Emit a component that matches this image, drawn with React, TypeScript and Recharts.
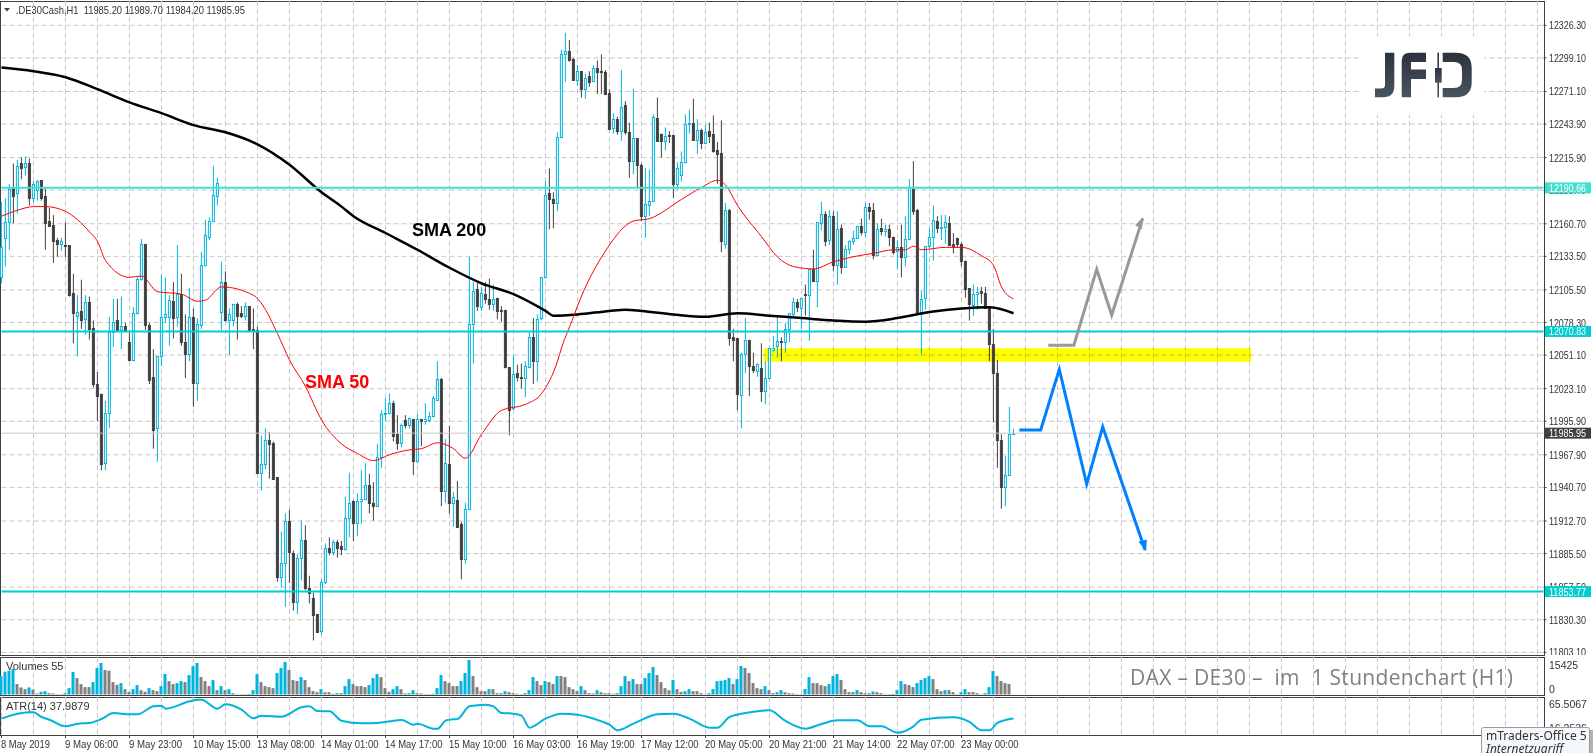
import React from "react"
import {
  Bar,
  CartesianGrid,
  Cell,
  ComposedChart,
  Line,
  ReferenceArea,
  ReferenceLine,
  XAxis,
  YAxis,
} from "recharts"

// hourly candles, one value per bar
const opens = [
  12116,12149,12162,12191,12186,12211,12208,12211,12182,12189,
  12197,12184,12163,12160,12147,12144,12143,12143,12103,12084,
  12088,12081,12095,12074,12027,12019,11961,12003,12070,12080,
  12072,12075,12062,12047,12086,12115,12144,12076,12033,11990,
  12050,12083,12083,12096,12083,12102,12062,12052,12083,12028,
  12076,12126,12150,12163,12184,12087,12112,12080,12080,12094,
  12086,12084,12092,12073,12072,11953,11960,11980,11978,11949,
  11866,11878,11913,11886,11845,11882,11897,11857,11848,11835,
  11821,11862,11890,11887,11895,11892,11889,11915,11929,11911,
  11929,11931,11943,11928,11925,11966,12002,12003,12011,11985,
  11978,11997,11993,11998,11963,11998,11996,11997,12000,12014,
  12031,11938,11960,11928,11930,11910,11881,11923,12077,12106,
  12091,12102,12098,12094,12099,12089,12089,12041,12007,12036,
  12033,12032,12041,12066,12046,12082,12116,12186,12181,12178,
  12233,12302,12305,12298,12281,12288,12273,12284,12280,12291,
  12288,12287,12270,12241,12248,12238,12260,12237,12213,12232,
  12210,12167,12176,12180,12249,12236,12230,12235,12235,12194,
  12201,12212,12244,12245,12231,12239,12228,12238,12236,12222,
  12220,12144,12172,12066,12065,12018,12052,12064,12042,12038,
  12040,12021,12032,12055,12059,12063,12062,12073,12085,12095,
  12090,12102,12101,12123,12113,12161,12169,12147,12167,12126,
  12157,12125,12140,12146,12149,12159,12154,12175,12172,12135,
  12157,12155,12156,12150,12138,12141,12133,12148,12190,12172,
  12087,12099,12142,12150,12163,12157,12158,12161,12144,12149,
  12144,12130,12107,12093,12102,12105,12103,12091,12060,12036,
  11980,11941,11951,11985.2,
]
const highs = [
  12179,12182,12194,12211,12214,12216,12217,12215,12196,12197,
  12197,12190,12174,12168,12149,12149,12162,12143,12119,12101,
  12114,12101,12100,12080,12037,12019,12013,12083,12098,12098,
  12100,12078,12070,12091,12116,12148,12144,12078,12056,12050,
  12118,12116,12101,12112,12143,12119,12085,12107,12090,12082,
  12137,12164,12166,12209,12199,12129,12121,12090,12094,12095,
  12092,12095,12092,12090,12075,11984,11990,11987,11979,11949,
  11904,11919,11922,11888,11885,11913,11909,11867,11853,11835,
  11864,11894,11899,11897,11897,11896,11933,11953,11930,11936,
  11955,11961,11952,11945,11977,12005,12015,12019,12013,12001,
  11994,12001,11999,11998,12002,11998,12011,12004,12017,12046,
  12032,11981,11992,11937,11946,11912,11928,12133,12112,12111,
  12108,12112,12115,12110,12099,12092,12089,12041,12051,12043,
  12044,12046,12070,12082,12085,12116,12196,12207,12187,12237,
  12306,12320,12314,12299,12293,12288,12286,12288,12293,12297,
  12302,12289,12273,12253,12250,12289,12263,12245,12273,12232,
  12211,12207,12206,12252,12266,12236,12241,12238,12235,12212,
  12221,12252,12256,12265,12248,12240,12243,12245,12251,12229,
  12247,12178,12173,12073,12065,12053,12082,12064,12053,12044,
  12061,12046,12057,12067,12083,12066,12078,12086,12099,12098,
  12099,12110,12123,12139,12162,12179,12171,12172,12171,12171,
  12160,12143,12147,12155,12159,12165,12178,12178,12178,12161,
  12165,12160,12160,12150,12147,12160,12167,12198,12213,12173,
  12105,12142,12157,12176,12167,12168,12168,12167,12153,12149,
  12145,12130,12107,12110,12108,12108,12108,12092,12073,12047,
  11985,11967,12008,11989.7,
]
const lows = [
  12111,12125,12139,12161,12169,12198,12201,12176,12179,12180,
  12180,12139,12158,12128,12133,12138,12133,12100,12061,12050,
  12073,12068,12064,12024,11996,11955,11955,11990,12058,12072,
  12056,12070,12046,12046,12085,12113,12072,12027,11973,11962,
  12042,12078,12059,12065,12075,12059,12032,12046,12008,12013,
  12073,12125,12147,12163,12176,12072,12079,12051,12075,12064,
  12082,12080,12072,12056,11953,11938,11956,11948,11947,11862,
  11857,11841,11861,11838,11835,11863,11855,11844,11813,11820,
  11818,11860,11884,11884,11882,11884,11888,11899,11896,11900,
  11910,11930,11919,11913,11925,11957,11996,12002,11979,11972,
  11974,11990,11990,11951,11961,11975,11993,11995,11999,12013,
  11925,11928,11919,11908,11907,11864,11877,11922,12044,12088,
  12088,12094,12089,12088,12081,12079,12040,11984,12005,12029,
  12023,12016,12040,12027,12029,12080,12115,12156,12157,12171,
  12232,12279,12296,12280,12276,12266,12265,12275,12279,12269,
  12269,12268,12239,12236,12235,12230,12235,12199,12202,12190,
  12163,12149,12167,12180,12230,12216,12222,12228,12182,12189,
  12196,12211,12236,12231,12219,12223,12228,12228,12220,12194,
  12137,12140,12059,12046,12005,11990,12036,12017,12036,12033,
  12012,12010,12031,12054,12049,12046,12053,12062,12082,12087,
  12073,12084,12063,12113,12091,12155,12142,12143,12121,12110,
  12119,12124,12135,12143,12148,12151,12150,12164,12131,12135,
  12151,12150,12142,12135,12123,12116,12125,12147,12168,12087,
  12051,12089,12140,12130,12153,12147,12144,12143,12136,12141,
  12125,12099,12080,12084,12089,12094,12090,12046,11995,11957,
  11923,11925,11951,11984.2,
]
const closes = [
  12141,12162,12190,12184,12209,12207,12211,12182,12194,12196,
  12182,12161,12159,12146,12144,12146,12142,12101,12086,12087,
  12080,12095,12073,12027,12017,11960,12003,12070,12079,12072,
  12075,12071,12047,12086,12115,12144,12076,12030,11989,12050,
  12083,12085,12097,12082,12102,12062,12052,12083,12028,12077,
  12126,12151,12163,12185,12195,12112,12080,12085,12094,12084,
  12084,12092,12072,12071,11953,11960,11980,11977,11948,11866,
  11878,11913,11887,11845,11882,11897,11857,11853,11834,11820,
  11862,11890,11887,11895,11890,11889,11915,11928,11911,11929,
  11931,11943,11928,11925,11966,12002,12003,12011,11984,11978,
  11993,11993,11999,11963,11998,11996,11998,12000,12015,12031,
  11938,11961,11928,11933,11908,11881,11923,12077,12105,12092,
  12103,12098,12094,12098,12088,12088,12041,12005,12035,12033,
  12032,12042,12066,12046,12081,12116,12185,12181,12178,12233,
  12302,12305,12297,12281,12288,12273,12282,12279,12291,12287,
  12287,12269,12240,12248,12238,12258,12237,12213,12232,12210,
  12167,12177,12180,12250,12230,12230,12234,12234,12194,12207,
  12212,12244,12245,12231,12239,12228,12237,12234,12221,12219,
  12146,12172,12065,12064,12019,12052,12064,12042,12039,12044,
  12021,12032,12057,12057,12063,12062,12073,12086,12095,12091,
  12099,12101,12123,12113,12162,12169,12146,12167,12126,12156,
  12125,12140,12146,12149,12159,12154,12175,12171,12135,12156,
  12155,12156,12150,12137,12141,12133,12148,12191,12171,12087,
  12098,12142,12150,12164,12157,12158,12162,12143,12142,12144,
  12130,12106,12094,12102,12104,12103,12090,12060,12036,11980,
  11941,11951,11985,11985.95,
]
const volumes = [
  8250,10200,10650,11400,4650,3150,2400,3150,2250,450,
  1200,1500,600,450,150,150,600,2850,10050,7350,
  4650,3300,3300,5550,11850,14100,10950,10650,5550,4350,
  5100,2400,1200,2400,4200,1950,1200,2850,1950,1500,
  3750,9150,6000,4650,5100,6000,5550,8700,12750,14100,
  7800,6000,3750,6450,1950,3750,1950,2400,600,150,
  150,150,300,1950,9150,5550,3750,3300,2850,9600,
  11850,14550,10950,6450,6000,7800,6450,3300,1500,1050,
  2400,1050,1050,300,600,600,3750,6900,4650,3750,
  3750,3300,4200,7350,9150,7800,2850,1200,2400,3750,
  2400,450,600,1950,600,450,150,150,300,2850,
  8700,6000,5100,3750,3750,6000,9600,15425,8250,3300,
  1500,1500,2400,2400,600,600,1500,1050,600,300,
  150,600,1950,7800,6000,4200,6000,5550,4650,8250,
  8250,7800,3300,2400,1500,3750,1950,600,450,1950,
  1050,600,600,300,600,3750,8250,6000,6900,4650,
  4650,7350,9600,12300,8700,5550,2850,1950,6450,2400,
  1200,1500,2400,1500,1500,600,150,600,2400,6000,
  6150,6450,7350,4650,6900,12750,11850,9600,5100,2850,
  2400,3750,1950,600,1050,1950,1050,600,450,150,
  150,2400,7800,5100,5100,4200,3750,4650,8250,9150,
  6450,2400,1050,1050,1950,1050,600,600,1350,1050,
  600,150,150,300,1950,6000,4650,4200,3300,5100,
  6450,7350,8250,6900,2400,1500,1950,1950,1050,150,
  1050,2400,1050,1050,600,150,600,3300,10500,8250,
  6000,5100,4650,55,
]

// moving averages and ATR, read at the bars where the curve bends
const sma200Bars = [0,8,16,24,32,40,48,56,64,72,80,85,88,96,104,112,120,128,136,138,144,152,156,160,168,176,184,192,200,208,216,224,232,240,247,253]
const sma200Values = [12291,12288,12283,12273,12262,12253,12243,12237,12227,12210,12187,12175,12167,12153,12139,12124,12111,12102,12088,12084,12085,12088,12089,12088,12085,12083,12086,12084,12082,12080,12079,12082,12087,12090,12091,12086]
const sma50Bars = [0,4,8,11,16,22,24,26,32,35,39,45,49,51,55,63,66,68,69,72,76,80,85,89,93,97,102,105,109,113,116,120,125,131,135,139,140,143,144,151,158,162,170,175,179,181,184,190,194,198,203,208,216,218,223,226,228,230,236,240,245,248,250,253]
const sma50Values = [12167,12172,12175,12175,12171,12154,12146,12130,12116,12117,12104,12102,12096,12097,12108,12101,12089,12076,12069,12047,12025,11997,11977,11969,11963,11968,11972,11973,11978,11973,11965,11985,12005,12010,12019,12046,12057,12083,12092,12138,12163,12165,12181,12191,12197,12193,12176,12150,12133,12125,12123,12129,12135,12136,12139,12139,12142,12139,12141,12141,12134,12126,12108,12098]
const atrBars = [0,4,8,10,12,16,19,22,25,28,32,34,38,40,41,47,49,50,54,56,60,63,65,70,75,77,79,82,85,90,94,98,100,103,104,108,109,111,112,114,117,121,123,125,127,130,132,136,140,144,150,152,154,158,164,168,172,177,179,182,186,192,196,201,205,209,214,217,220,224,228,230,238,242,245,247,249,253]
const atrValues = [37.9,44.9,46.8,40.2,36.4,27.1,30.8,31.8,37.4,45.8,43.9,43.9,55.2,56.1,51.9,62.2,64.6,64.6,51.9,58,50.5,38.3,42.1,40.7,53.8,55.2,48.6,48.2,35,31.3,31.8,35,36,29.4,30.8,23.8,23.8,35,36.4,37.4,55.2,57.5,55.2,45.8,45.3,42.1,25.2,37.9,44.9,43.5,34.1,29.4,21.4,30.8,43.9,44.9,37.9,25.2,25.2,40.2,45.8,49.6,34.6,23.8,30.3,35.5,35.5,27.1,27.1,18.1,27.1,36.4,39.7,33.2,21.4,21.4,31.8,37.99]

// hand drawn scenario arrows, in bars and price
const blueArrowBars = [254.45,259.8,264.45,271.3,275.3,285.9]
const blueArrowPrices = [11988.6,11988.6,12039.2,11943.5,11991.3,11888.4]
const grayArrowBars = [261.7,268.1,273.8,277.55,285.3]
const grayArrowPrices = [12059.3,12059.3,12122.7,12084.5,12165.2]

const priceTicks = [12326.3,12299.1,12271.1,12243.9,12215.9,12188.7,12160.7,12133.5,12105.5,12078.3,12051.1,12023.1,11995.9,11967.9,11940.7,11912.7,11885.5,11857.5,11830.3,11803.1]
const timeLabels = ["8 May 2019","9 May 06:00","9 May 23:00","10 May 15:00","13 May 08:00","14 May 01:00","14 May 17:00","15 May 10:00","16 May 03:00","16 May 19:00","17 May 12:00","20 May 05:00","20 May 21:00","21 May 14:00","22 May 07:00","23 May 00:00"]
const timeTickBars = timeLabels.map((_, i) => i * 16)
const gridBars = Array.from({ length: 49 }, (_, i) => i * 8)
const tagPrices = [12190.66, 12070.83, 11985.95, 11853.77]

const WIDTH = 1593
const LEFT = 1.5
const AXIS_W = 49.5
const X_DOMAIN = [0, 385.5]
const Y_DOMAIN = [11800.85, 12346.58]
const FONT = '"Liberation Sans", sans-serif'
const BLUE = "#00b4dc"
const DARK = "#404040"
const GRID = "#c8c8c8"
const TAG_FILLS = ["#40e0d0", "#00ced1", DARK, "#00ced1"]

const candles = opens.map((open, i) => ({
  bar: i,
  open,
  high: highs[i],
  low: lows[i],
  close: closes[i],
  range: [lows[i], highs[i]],
  volume: volumes[i],
}))
const zip = (bars: number[], values: number[]) => bars.map((bar, i) => ({ bar, value: values[i] }))
// same mapping as the main pane, for the price tags that sit above the axis labels
const priceY = (p: number) => 1 + ((Y_DOMAIN[1] - p) * 654) / (Y_DOMAIN[1] - Y_DOMAIN[0])

function Candle(props: any) {
  const { x, y, width, height, payload } = props
  const cx = x + width / 2
  const k = height / (payload.high - payload.low || 1)
  const up = payload.close > payload.open
  const color = up ? BLUE : DARK
  const top = Math.round(y + (payload.high - Math.max(payload.open, payload.close)) * k)
  const bottom = Math.round(y + (payload.high - Math.min(payload.open, payload.close)) * k)
  return (
    <g>
      <line x1={cx} x2={cx} y1={y} y2={y + height} stroke={color} strokeWidth={1} />
      <rect
        x={cx - 1}
        y={top + 0.5}
        width={2}
        height={Math.max(bottom - top, 1)}
        fill={up ? "#fff" : DARK}
        stroke={color}
        strokeWidth={1}
      />
    </g>
  )
}

function PriceTick({ x, y, payload }: any) {
  return (
    <g>
      <line x1={x} x2={x + 3} y1={y} y2={y} stroke={DARK} />
      <text x={x + 5.5} y={y + 4} fontSize={10.5} fontFamily={FONT} fill="#333" textLength={37} lengthAdjust="spacingAndGlyphs">
        {payload.value.toFixed(2)}
      </text>
    </g>
  )
}

function PaneTick({ x, y, payload, index, digits }: any) {
  const label = payload.value.toFixed(digits)
  return (
    <text x={x + 5.5} y={y + (index === 0 ? -2 : 9)} fontSize={10.5} fontFamily={FONT} fill="#333">
      {label}
    </text>
  )
}

function TimeTick({ x, y, payload }: any) {
  const label = timeLabels[payload.value / 16]
  const len = label.length === 10 ? 49 : label.length === 11 ? 53 : 57.5
  return (
    <g>
      <line x1={x} x2={x} y1={y} y2={y + 3} stroke={DARK} />
      <text x={x - 0.5} y={y + 13} fontSize={10.5} fontFamily={FONT} fill="#333" textLength={len} lengthAdjust="spacingAndGlyphs">
        {label}
      </text>
    </g>
  )
}

function ArrowHead({ cx, cy, index, last, head, fill }: any) {
  if (index !== last) return <g key={index} />
  const pts = head.map(([dx, dy]: number[]) => `${cx + dx},${cy + dy}`).join(" ")
  return <polygon key={index} points={pts} fill={fill} />
}

function YellowZone(props: any) {
  const { x, y, width, height } = props
  return <rect x={x} y={y} width={width} height={height} fill="#ffff00" style={{ mixBlendMode: "multiply" }} />
}

function Frame({ top, height }: { top: number; height: number }) {
  return (
    <div
      style={{
        position: "absolute",
        left: 0,
        top,
        width: 1543,
        height,
        border: `1px solid ${DARK}`,
      }}
    />
  )
}

function Overlay() {
  return (
    <svg width={WIDTH} height={753} style={{ position: "absolute", left: 0, top: 0 }}>
      <defs>
        <linearGradient id="logo" x1="0" y1="0" x2="0" y2="1">
          <stop offset="0%" stopColor="#2a333d" />
          <stop offset="100%" stopColor="#4a545e" />
        </linearGradient>
      </defs>
      <polygon points="4,8 10,8 7,11.5" fill={DARK} />
      <text x={16} y={14} fontSize={10.5} fontFamily={FONT} fill="#333" textLength={229} lengthAdjust="spacingAndGlyphs" xmlSpace="preserve">
        .DE30Cash,H1  11985.20 11989.70 11984.20 11985.95
      </text>

      {tagPrices.map((p, i) => (
        <g key={p}>
          <rect x={1545} y={priceY(p) - 5.5} width={46} height={11} fill={TAG_FILLS[i]} />
          <text x={1549} y={priceY(p) + 4} fontSize={10.5} fontFamily={FONT} fill="#fff" textLength={37} lengthAdjust="spacingAndGlyphs">
            {p.toFixed(2)}
          </text>
        </g>
      ))}

      <text x={412} y={236} fontSize={18} fontWeight="bold" fontFamily={FONT} fill="#000">SMA 200</text>
      <text x={305} y={388} fontSize={18} fontWeight="bold" fontFamily={FONT} fill="#ff0000">SMA 50</text>

      <rect x={1361} y={36} width={123} height={79} fill="#fff" />
      <g fill="url(#logo)">
        <path d="M1385 52.7H1394.3V86Q1394.3 97.3 1383 97.3H1375V88.5H1381Q1385 88.5 1385 85Z" />
        <path d="M1401.7 97.3V61Q1401.7 52.7 1410 52.7H1426V62H1411V69.5H1426V79H1411V97.3Z" />
        <rect x={1437.4} y={52.7} width={1.6} height={44.6} />
        <rect x={1435} y={68} width={6.7} height={14.7} />
        <path d="M1442.7 52.7H1456Q1471.7 52.7 1471.7 68V82Q1471.7 97.3 1456 97.3H1442.7V88H1454Q1462 88 1462 80V70Q1462 62 1454 62H1442.7Z" />
      </g>

      <text x={6} y={670} fontSize={11} fontFamily={FONT} fill="#333">Volumes 55</text>
      <text x={6} y={710} fontSize={11} fontFamily={FONT} fill="#333">ATR(14) 37.9879</text>
      <text x={1130} y={685} fontSize={21} fontFamily={'"Open Sans"'} fill="#808080" textLength={383} lengthAdjust="spacing" xmlSpace="preserve">
        DAX – DE30 –  im  1 Stundenchart (H1)
      </text>

      <rect x={1484} y={730} width={109} height={23} fill="#555" opacity={0.45} />
      <rect x={1481.5} y={727.5} width={108} height={30} rx={2} fill="#f4f7fb" stroke="#9a9a9a" />
      <text x={1486} y={740} fontSize={12} fontFamily={'"Noto Sans"'} fill="#333">mTraders-Office 5</text>
      <text x={1486} y={753} fontSize={12} fontStyle="italic" fontFamily={'"Noto Sans"'} fill="#333">Internetzugriff</text>
    </svg>
  )
}

export default function App() {
  return (
    <div style={{ position: "absolute", left: 0, top: 0, width: WIDTH, height: 753, overflow: "hidden", background: "#fff" }}>
      <Frame top={1} height={653} />
      <Frame top={657} height={37} />
      <Frame top={697} height={37} />

      <div style={{ position: "absolute", left: 0, top: 0 }}>
        <ComposedChart width={WIDTH} height={655} data={candles} margin={{ top: 1, right: 0, bottom: 0, left: LEFT }}>
          <CartesianGrid stroke={GRID} strokeDasharray="5 3" verticalValues={gridBars} horizontalValues={priceTicks} />
          <XAxis hide type="number" dataKey="bar" domain={X_DOMAIN} />
          <YAxis
            orientation="right"
            width={AXIS_W}
            domain={Y_DOMAIN}
            allowDataOverflow
            ticks={priceTicks}
            interval={0}
            axisLine={false}
            tickLine={false}
            tickSize={0}
            tickMargin={0}
            tick={<PriceTick />}
          />
          <Bar dataKey="range" barSize={3} shape={<Candle />} isAnimationActive={false} />
          <Line type="monotone" data={zip(sma200Bars, sma200Values)} dataKey="value" stroke="#000" strokeWidth={2.5} dot={false} activeDot={false} isAnimationActive={false} />
          <Line type="monotone" data={zip(sma50Bars, sma50Values)} dataKey="value" stroke="#ff0000" strokeWidth={1} dot={false} activeDot={false} isAnimationActive={false} />
          <ReferenceLine y={11985.95} stroke={GRID} strokeWidth={1} />
          <ReferenceLine y={12190.66} stroke="#40e0d0" strokeWidth={2} />
          <ReferenceLine y={12070.83} stroke="#00ced1" strokeWidth={2} />
          <ReferenceLine y={11853.77} stroke="#00ced1" strokeWidth={2} />
          <ReferenceArea x1={190.5} x2={312.4} y1={12045.6} y2={12056.8} shape={<YellowZone />} />
          <Line
            data={zip(grayArrowBars, grayArrowPrices)}
            dataKey="value"
            stroke="#999999"
            strokeWidth={3}
            dot={<ArrowHead last={grayArrowBars.length - 1} head={[[0, -1], [-7.6, 7], [-0.6, 11]]} fill="#999999" />}
            activeDot={false}
            isAnimationActive={false}
          />
          <Line
            data={zip(blueArrowBars, blueArrowPrices)}
            dataKey="value"
            stroke="#0080ff"
            strokeWidth={3}
            dot={<ArrowHead last={blueArrowBars.length - 1} head={[[1, 1], [-6.7, -8.3], [1.7, -10.7]]} fill="#0080ff" />}
            activeDot={false}
            isAnimationActive={false}
          />
        </ComposedChart>
      </div>

      <div style={{ position: "absolute", left: 0, top: 657 }}>
        <ComposedChart width={WIDTH} height={37.5} data={candles} margin={{ top: 0, right: 0, bottom: 0, left: LEFT }}>
          <CartesianGrid stroke={GRID} strokeDasharray="5 3" horizontal={false} verticalValues={gridBars} />
          <XAxis hide type="number" dataKey="bar" domain={X_DOMAIN} />
          <YAxis
            orientation="right"
            width={AXIS_W}
            domain={[0, 16767]}
            ticks={[0, 15425]}
            interval={0}
            axisLine={false}
            tickLine={false}
            tickSize={0}
            tickMargin={0}
            tick={<PaneTick digits={0} />}
          />
          <Bar dataKey="volume" barSize={3} isAnimationActive={false}>
            {candles.map((c, i) => (
              <Cell key={i} fill={i === 0 || c.volume > candles[i - 1].volume ? BLUE : "#808080"} />
            ))}
          </Bar>
        </ComposedChart>
      </div>

      <div style={{ position: "absolute", left: 0, top: 697 }}>
        <ComposedChart width={WIDTH} height={56} margin={{ top: 0, right: 0, bottom: 0, left: LEFT }}>
          <CartesianGrid stroke={GRID} strokeDasharray="5 3" horizontal={false} verticalValues={gridBars} />
          <XAxis
            type="number"
            dataKey="bar"
            domain={X_DOMAIN}
            ticks={timeTickBars}
            interval={0}
            height={18}
            axisLine={false}
            tickLine={false}
            tickSize={0}
            tickMargin={0}
            tick={<TimeTick />}
          />
          <YAxis
            orientation="right"
            width={AXIS_W}
            domain={[14.87, 68.3]}
            ticks={[16.2536, 65.5067]}
            interval={0}
            axisLine={false}
            tickLine={false}
            tickSize={0}
            tickMargin={0}
            tick={<PaneTick digits={4} />}
          />
          <Line type="monotone" data={zip(atrBars, atrValues)} dataKey="value" stroke={BLUE} strokeWidth={2} dot={false} activeDot={false} isAnimationActive={false} />
        </ComposedChart>
      </div>

      <Overlay />
    </div>
  )
}
